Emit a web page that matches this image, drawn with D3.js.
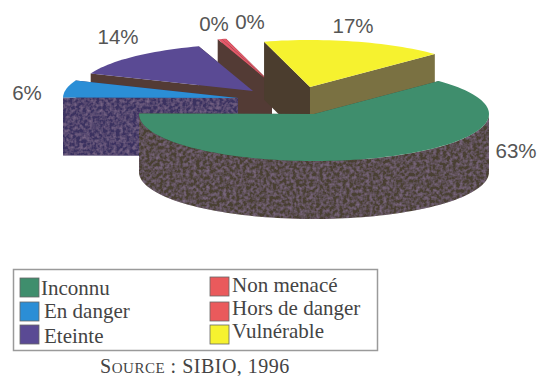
<!DOCTYPE html>
<html>
<head>
<meta charset="utf-8">
<script src="https://cdn.jsdelivr.net/npm/d3@7/dist/d3.min.js"></script>
<style>
  html, body { margin: 0; padding: 0; background: #fff; }
  svg { display: block; }
</style>
</head>
<body>
<script>
// Statut de conservation des espèces (parts en %)
const categories = ["Inconnu", "En danger", "Eteinte", "Non menacé", "Hors de danger", "Vulnérable"];
const shares = [63, 6, 14, 0.4, 0.4, 17];

// Apparence de chaque secteur
const topColors = ["#3f8e6d", "#2b8ed6", "#5a4a94", "#e4596a", "#e4596a", "#f6f22f"];
const swatchColors = ["#3f8e6d", "#2b8ed6", "#5a4a94", "#ea5a5c", "#ea5a5c", "#f6f22f"];
const startFaceColors = ["#4a3f30", "#3a3260", "#533b35", "#533b35", "#533b35", "#4b3d2e"];
const endFaceColors = ["#4a3f30", "#3a3260", "#533b35", "#533b35", "#533b35", "#7a7142"];

// Sommet de chaque secteur éclaté
const sliceOriginsX = [314, 238, 253, 272, 272, 310];
const sliceOriginsY = [114, 98, 91, 84, 84, 87];
const labelX = [516, 27, 118, 214, 250, 353];
const labelY = [158, 100, 44, 31, 29, 33];

const width = 540, height = 376;
const radiusX = 175, radiusY = 47, depth = 58;

const svg = d3.select("body").append("svg").attr("width", width).attr("height", height);

// Grain d'impression sur les parois sombres
const grain = svg.append("defs").append("filter").attr("id", "grain")
  .attr("x", 0).attr("y", 0).attr("width", 1).attr("height", 1);
grain.append("feTurbulence").attr("type", "fractalNoise").attr("baseFrequency", 0.3)
  .attr("numOctaves", 2).attr("seed", 4).attr("result", "n");
grain.append("feColorMatrix").attr("in", "n").attr("type", "matrix")
  .attr("values", "0 0 0 0 0.26  0 0 0 0 0.18  0 0 0 0 0.30  1.4 0 0 0 -0.5").attr("result", "c");
grain.append("feComposite").attr("in", "c").attr("in2", "SourceAlpha").attr("operator", "in").attr("result", "s");
const merge = grain.append("feMerge");
merge.append("feMergeNode").attr("in", "SourceGraphic");
merge.append("feMergeNode").attr("in", "s");

const ex = d3.scaleLinear().domain([-1, 1]).range([-radiusX, radiusX]);
const ey = d3.scaleLinear().domain([-1, 1]).range([-radiusY, radiusY]);
const rad = d => d * Math.PI / 180;

const arcs = d3.pie().sort(null).startAngle(rad(45.5)).endAngle(rad(45.5 + 360))(shares);

const rim = (a, ox, oy, dz = 0) => [ox + ex(Math.sin(a)), oy - ey(Math.cos(a)) + dz];
const line = d3.line();

function sampleAngles(a0, a1) {
  const n = Math.max(2, Math.ceil((a1 - a0) / rad(2)));
  return d3.range(n + 1).map(i => a0 + (a1 - a0) * i / n);
}

function cutFace(a, ox, oy) {
  const p = rim(a, ox, oy);
  return line([[ox, oy], p, [p[0], p[1] + depth], [ox, oy + depth]]) + "Z";
}

// Peint de l'arrière vers l'avant
const paintOrder = [4, 3, 2, 5, 1, 0];
const pieLayer = svg.append("g");

paintOrder.forEach(i => {
  const d = arcs[i], ox = sliceOriginsX[i], oy = sliceOriginsY[i];
  const g = pieLayer.append("g");
  g.append("path").attr("d", cutFace(d.endAngle, ox, oy)).attr("fill", endFaceColors[i]);
  g.append("path").attr("d", cutFace(d.startAngle, ox, oy)).attr("fill", startFaceColors[i])
    .attr("filter", i === 1 ? "url(#grain)" : null);
  // Paroi extérieure : seule la partie tournée vers l'avant est visible
  const a0 = Math.max(d.startAngle, rad(90)), a1 = Math.min(d.endAngle, rad(270));
  if (a1 > a0) {
    const angles = sampleAngles(a0, a1);
    const upper = angles.map(a => rim(a, ox, oy));
    const lower = angles.map(a => rim(a, ox, oy, depth)).reverse();
    g.append("path").attr("d", line(upper.concat(lower)) + "Z")
      .attr("fill", "#4a4030").attr("filter", "url(#grain)");
  }
  const top = sampleAngles(d.startAngle, d.endAngle).map(a => rim(a, ox, oy));
  g.append("path").attr("d", line([[ox, oy], ...top]) + "Z").attr("fill", topColors[i]);
});

// Étiquettes de pourcentage
const pct = d3.format(".0f");
svg.append("g").selectAll("text").data(shares).join("text")
  .attr("x", (_, i) => labelX[i]).attr("y", (_, i) => labelY[i])
  .attr("text-anchor", "middle")
  .attr("font-family", "'Liberation Sans', Arial, sans-serif")
  .attr("font-size", 20.5).attr("fill", "#555")
  .text(d => pct(d) + "%");

// Légende en deux colonnes
const legend = svg.append("g");
legend.append("rect").attr("x", 13.5).attr("y", 269.5).attr("width", 364).attr("height", 81)
  .attr("fill", "#fff").attr("stroke", "#9a9a9a").attr("stroke-width", 1.5);

const swatchX = [20, 20, 20, 210, 210, 210];
const swatchY = [278, 302, 325, 277, 302, 325];
const legendTextX = [41, 44, 44, 232, 232, 232];
const legendTextY = [295, 318, 343, 292, 315, 338];

legend.selectAll("rect.swatch").data(categories).join("rect").attr("class", "swatch")
  .attr("x", (_, i) => swatchX[i]).attr("y", (_, i) => swatchY[i])
  .attr("width", 19).attr("height", 19)
  .attr("fill", (_, i) => swatchColors[i])
  .attr("stroke", "#666").attr("stroke-width", 0.8);
legend.selectAll("text").data(categories).join("text")
  .attr("x", (_, i) => legendTextX[i]).attr("y", (_, i) => legendTextY[i])
  .attr("font-family", "'Liberation Serif', 'Times New Roman', serif")
  .attr("font-size", 21).attr("fill", "#444")
  .text(d => d);

// Source
const src = svg.append("text").attr("x", 195).attr("y", 373).attr("text-anchor", "middle")
  .attr("font-family", "'Liberation Serif', 'Times New Roman', serif")
  .attr("font-size", 20).attr("letter-spacing", 0.5).attr("fill", "#444");
src.append("tspan").text("S");
src.append("tspan").attr("font-size", 15).text("OURCE");
src.append("tspan").text(" : SIBIO, 1996");
</script>
</body>
</html>
